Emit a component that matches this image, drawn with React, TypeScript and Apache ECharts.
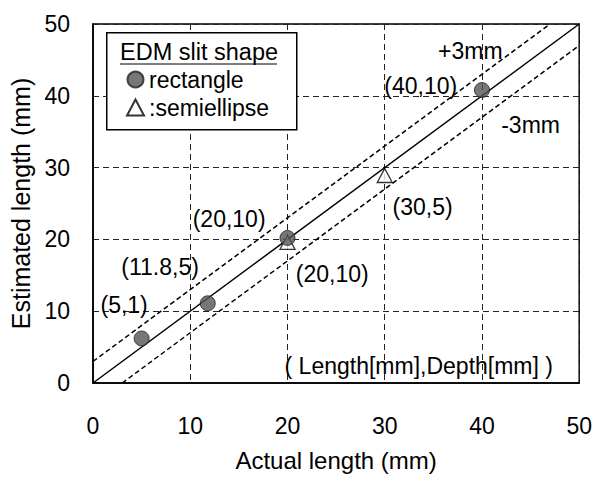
import React, { useEffect, useRef } from "react";
import * as echarts from "echarts";

// Data (mm)
const rectActual = [5, 11.8, 20, 40];
const rectEstimated = [6.2, 11.1, 20.2, 40.8];
const semiActual = [20, 30];
const semiEstimated = [19.6, 28.9];
const axisTicks = [0, 10, 20, 30, 40, 50];
const tolerance = 3;

// Annotation texts and their anchor positions (data units)
const annoTexts = ["(5,1)", "(11.8,5)", "(20,10)", "(20,10)", "(30,5)", "(40,10)", "+3mm", "-3mm", "( Length[mm],Depth[mm] )"];
const annoX = [3.2, 6.9, 14.0, 24.6, 33.9, 33.7, 38.8, 45.0, 33.5];
const annoY = [10.9, 16.1, 22.9, 15.2, 24.5, 41.3, 46.3, 35.9, 2.3];

const FONT = "Liberation Sans, Arial, sans-serif";

export default function App() {
  const ref = useRef<HTMLDivElement>(null);
  useEffect(() => {
    if (!ref.current) return;
    const chart = echarts.init(ref.current, undefined, { renderer: "svg" });
    const lo = axisTicks[0];
    const hi = axisTicks[axisTicks.length - 1];
    const option: any = {
      animation: false,
      textStyle: { fontFamily: FONT, color: "#000" },
      grid: {
        left: 93,
        right: 13,
        top: 24,
        bottom: 92,
        show: true,
        borderColor: "#000",
        borderWidth: 1.5,
        backgroundColor: "#fff",
      },
      xAxis: {
        type: "value",
        min: lo,
        max: hi,
        interval: 10,
        name: "Actual length (mm)",
        nameLocation: "middle",
        nameGap: 65,
        nameTextStyle: { fontSize: 24, fontFamily: FONT, color: "#000" },
        axisLine: { show: true, lineStyle: { color: "#000", width: 1.5 } },
        axisTick: { show: false },
        axisLabel: { fontSize: 23, color: "#000", margin: 31, fontFamily: FONT },
        splitLine: { show: true, lineStyle: { color: "#222", type: [6, 4], width: 1 } },
      },
      yAxis: {
        type: "value",
        min: lo,
        max: hi,
        interval: 10,
        name: "Estimated length (mm)",
        nameLocation: "middle",
        nameGap: 59,
        nameTextStyle: { fontSize: 25, fontFamily: FONT, color: "#000" },
        axisLine: { show: true, lineStyle: { color: "#000", width: 1.5 } },
        axisTick: { show: false },
        axisLabel: { fontSize: 23, color: "#000", margin: 23, fontFamily: FONT },
        splitLine: { show: true, lineStyle: { color: "#222", type: [6, 4], width: 1 } },
      },
      legend: {
        orient: "vertical",
        left: 121,
        top: 63,
        z: 30,
        itemGap: 5,
        itemWidth: 17,
        itemHeight: 16,
        selectedMode: false,
        textStyle: { fontSize: 23, fontFamily: FONT, color: "#000" },
        data: [
          { name: "rectangle", icon: "circle" },
          { name: "semiellipse", icon: "triangle" },
        ],
        formatter: (n: string) => (n === "semiellipse" ? ":semiellipse" : n),
      },
      graphic: [
        {
          type: "rect",
          left: 106,
          top: 32,
          shape: { width: 190, height: 97 },
          style: { fill: "#fff", stroke: "#000", lineWidth: 1.5 },
          z: 10,
        },
        {
          type: "text",
          left: 120,
          top: 40,
          style: { text: "EDM slit shape", fontSize: 23.5, fontFamily: FONT, fill: "#000" },
          z: 11,
        },
        {
          type: "line",
          shape: { x1: 120, y1: 64, x2: 277, y2: 64 },
          style: { stroke: "#000", lineWidth: 1.2 },
          z: 11,
        },
      ],
      series: [
        {
          type: "line",
          name: "ideal",
          data: [[lo, lo], [hi, hi]],
          symbol: "none",
          lineStyle: { color: "#000", width: 1.5 },
          z: 3,
        },
        {
          type: "line",
          name: "plus",
          data: [[lo, lo + tolerance], [hi - tolerance, hi]],
          symbol: "none",
          lineStyle: { color: "#000", width: 1.5, type: [5, 3] },
          z: 3,
        },
        {
          type: "line",
          name: "minus",
          data: [[lo + tolerance, lo], [hi, hi - tolerance]],
          symbol: "none",
          lineStyle: { color: "#000", width: 1.5, type: [5, 3] },
          z: 3,
        },
        {
          type: "scatter",
          name: "semiellipse",
          data: semiActual.map((x, i) => [x, semiEstimated[i]]),
          symbol: "triangle",
          symbolSize: [15, 14],
          itemStyle: { color: "#fff", borderColor: "#000", borderWidth: 1.3 },
          z: 4,
        },
        {
          type: "scatter",
          name: "rectangle",
          data: rectActual.map((x, i) => [x, rectEstimated[i]]),
          symbol: "circle",
          symbolSize: 15,
          itemStyle: { color: "#555", borderColor: "#222", borderWidth: 1 },
          z: 5,
        },
        {
          type: "scatter",
          name: "annotations",
          data: annoTexts.map((t, i) => ({ value: [annoX[i], annoY[i]], name: t })),
          symbolSize: 0,
          itemStyle: { color: "#fff", opacity: 1 },
          silent: true,
          label: {
            show: true,
            position: "inside",
            formatter: (p: any) => p.name,
            fontSize: 23,
            fontFamily: FONT,
            color: "#000",
            opacity: 1,
            textBorderWidth: 0,
          },
          z: 6,
        },
      ],
    };
    chart.setOption(option);
    return () => chart.dispose();
  }, []);
  return (
    <div
      ref={ref}
      style={{ position: "absolute", left: 0, top: 0, width: 595, height: 477, background: "#fff" }}
    />
  );
}
